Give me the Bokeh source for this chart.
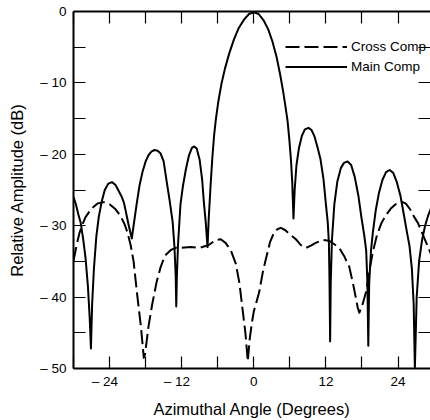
from bokeh.plotting import figure
from bokeh.models import LinearAxis, FixedTicker, Legend, LegendItem, Range1d
from bokeh.embed import file_html
from bokeh.resources import INLINE

# Main component (solid) - azimuth (deg), relative amplitude (dB)
main_deg = [-30.0, -29.6, -29.2, -28.8, -28.4, -28.0, -27.6, -27.3, -27.1,
            -26.9, -26.6, -26.2, -25.8, -25.3, -24.8, -24.2, -23.6, -23.0, -22.5, -22.0, -21.6, -21.2, -20.8, -20.3,
            -20.0, -19.5, -19.0, -18.5, -18.0, -17.5, -17.0, -16.5, -16.0, -15.5, -15.0, -14.5, -14.0, -13.5, -13.2, -13.0, -12.9,
            -12.8, -12.6, -12.2, -11.8, -11.3, -10.8, -10.3, -9.9, -9.5, -9.0, -8.6, -8.3, -8.0, -7.7,
            -7.5, -7.2, -6.9, -6.6, -6.3, -5.9, -5.4, -4.8, -4.1, -3.3, -2.5, -1.6, -0.8, 0.0,
            0.8, 1.6, 2.4, 3.1, 3.8, 4.4, 4.9, 5.3, 5.6, 5.9, 6.2, 6.4, 6.6,
            6.8, 7.1, 7.5, 8.0, 8.5, 9.1, 9.6, 10.1, 10.6, 11.1, 11.6, 12.0, 12.3, 12.5, 12.6, 12.7,
            12.8, 13.0, 13.4, 13.9, 14.5, 15.0, 15.6, 16.2, 16.8, 17.4, 17.9, 18.4, 18.7, 18.9, 19.05,
            19.2, 19.5, 19.8, 20.3, 20.8, 21.4, 22.0, 22.6, 23.2, 23.8, 24.4, 25.0, 25.5, 25.9, 26.3, 26.6, 26.8,
            27.1, 27.5, 28.0, 28.5, 29.0, 29.5, 30.0]
main_db = [-26.0, -27.0, -28.4, -29.6, -31.8, -34.5, -38.5, -43.0, -47.2,
           -41.0, -36.0, -31.5, -28.8, -26.6, -25.0, -24.1, -23.9, -24.3, -25.1, -25.9, -26.8, -28.4, -30.0, -31.8,
           -30.0, -27.0, -24.3, -22.4, -21.0, -20.1, -19.6, -19.4, -19.5, -19.9, -21.0, -23.8, -26.5, -29.5, -33.0, -37.0, -41.3,
           -37.0, -32.5, -27.0, -24.5, -22.1, -20.2, -19.1, -18.9, -19.2, -20.8, -23.5, -26.8, -29.5, -33.0,
           -29.0, -24.5, -20.5, -17.3, -15.0, -12.6, -10.2, -8.0, -5.9, -3.9, -2.3, -1.1, -0.35, -0.1,
           -0.35, -1.2, -2.5, -4.2, -6.4, -8.9, -11.3, -13.5, -15.2, -17.8, -21.0, -24.0, -29.0,
           -25.0, -21.5, -19.2, -17.4, -16.5, -16.3, -16.6, -17.5, -19.0, -20.7, -23.5, -27.0, -29.5, -32.5, -38.0, -46.2,
           -38.0, -32.0, -27.0, -23.8, -21.9, -21.2, -21.0, -21.5, -23.2, -25.8, -28.8, -31.5, -33.5, -38.0, -46.8,
           -38.0, -33.5, -31.0, -27.8, -25.5, -23.6, -22.5, -22.2, -22.6, -23.9, -25.8, -28.6, -31.0, -32.8, -36.0, -41.0, -50.0,
           -40.0, -35.0, -32.0, -30.0, -28.6, -27.5, -26.5]

# Cross component (dashed)
cross_deg = [-30.0, -29.5, -29.0, -28.5, -28.0, -27.0, -26.0, -25.0, -24.0, -23.0, -22.2, -21.5, -21.0, -20.5,
             -20.0, -19.4, -18.8, -18.3, -18.1, -17.5, -16.9, -16.2, -15.5, -14.8, -13.8, -13.0, -12.0, -10.5,
             -9.0, -7.5, -6.3, -5.5, -4.7, -3.8, -3.0, -2.4, -1.9, -1.4, -1.0, -0.7, -0.3, 0.0, 0.5, 0.9,
             1.5, 2.0, 2.7, 3.3, 3.9, 4.5, 5.2, 6.0, 7.0, 7.8, 8.7, 9.5, 10.3, 11.5, 12.5, 13.4, 14.2, 15.0,
             15.9, 16.6, 17.3, 17.55, 18.0, 18.7, 19.3, 19.8, 20.5, 21.2, 22.0, 22.8, 23.6, 24.5, 25.3, 26.0,
             26.7, 27.3, 28.0, 28.7, 29.5]
cross_db = [-34.9, -32.8, -31.0, -29.8, -28.8, -27.6, -26.9, -26.7, -27.0, -27.7, -28.6, -29.8, -31.0, -32.7,
            -35.0, -39.7, -44.0, -48.5, -48.0, -44.0, -41.0, -38.0, -35.8, -34.2, -33.4, -33.1, -33.1, -33.0,
            -33.1, -32.7, -32.0, -31.9, -32.4, -33.5, -35.3, -38.0, -41.5, -45.0, -49.0, -46.0, -43.5, -42.0, -40.5, -39.3,
            -36.5, -34.7, -32.3, -31.1, -30.5, -30.3, -30.6, -31.2, -31.9, -32.7, -33.1, -32.8, -32.4, -32.0, -32.1, -32.6, -33.1, -34.2,
            -35.8, -38.5, -41.5, -42.2, -41.3, -39.2, -36.0, -33.7, -31.3, -29.7, -28.5, -27.6, -27.0, -26.6, -26.9, -27.7,
            -28.8, -29.6, -31.0, -32.4, -34.0]

x_ticks = [-30, -24, -18, -12, -6, 0, 6, 12, 18, 24, 30]
x_labels = {-24: "\u2013 24\u2002\u2009", -12: "\u2013 12\u2002\u2009", 0: "0", 12: "12", 24: "24"}
y_ticks = [-50, -45, -40, -35, -30, -25, -20, -15, -10, -5, 0]
y_labels = {-50: "\u2013 50", -40: "\u2013 40", -30: "\u2013 30", -20: "\u2013 20", -10: "\u2013 10", 0: "0"}

FONT = "Liberation Sans"

p = figure(width=430, height=420, x_range=Range1d(-30, 29.4), y_range=Range1d(-50, 0),
           output_backend="svg", toolbar_location=None,
           min_border_left=73, min_border_right=0, min_border_top=11, min_border_bottom=50)
p.outline_line_color = None
p.grid.visible = False
p.background_fill_color = "white"
p.border_fill_color = "white"

xl = {t: x_labels.get(t, "") for t in x_ticks}
yl = {t: y_labels.get(t, "") for t in y_ticks}

def style_axis(ax, ticks, labels, show_labels=True, line=True):
    ax.ticker = FixedTicker(ticks=ticks)
    ax.major_label_overrides = labels
    ax.major_tick_in = 12
    ax.major_tick_out = 0
    ax.major_tick_line_color = "black"
    ax.major_tick_line_width = 1.2
    ax.minor_tick_line_color = None
    ax.axis_line_color = "black" if line else None
    ax.axis_line_width = 2
    ax.major_label_text_font = FONT
    ax.major_label_text_color = "black"
    if show_labels:
        ax.major_label_text_font_size = "13.5px"
    else:
        ax.major_label_text_font_size = "1px"
        ax.major_label_text_alpha = 0
        ax.major_label_standoff = 0

xa = p.xaxis[0]
style_axis(xa, x_ticks, xl)
xa.major_label_standoff = 5
xa.axis_label = "Azimuthal Angle (Degrees)"
xa.axis_label_text_font = FONT
xa.axis_label_text_font_style = "normal"
xa.axis_label_text_font_size = "16.5px"
xa.axis_label_text_color = "black"
xa.axis_label_standoff = 8

ya = p.yaxis[0]
style_axis(ya, y_ticks, yl)
ya.major_label_standoff = 7
ya.axis_label = "Relative Amplitude (dB)"
ya.axis_label_text_font = FONT
ya.axis_label_text_font_style = "normal"
ya.axis_label_text_font_size = "16.5px"
ya.axis_label_text_color = "black"
ya.axis_label_standoff = 11

top = LinearAxis()
style_axis(top, x_ticks, {t: "" for t in x_ticks}, show_labels=False)
p.add_layout(top, "above")
right = LinearAxis()
style_axis(right, y_ticks, {t: "" for t in y_ticks}, show_labels=False, line=False)
p.add_layout(right, "right")

r_cross = p.line(cross_deg, cross_db, line_color="black", line_width=2, line_dash="14 5", line_join="round")
r_main = p.line(main_deg, main_db, line_color="black", line_width=2, line_join="round")

legend = Legend(items=[LegendItem(label="Cross Comp", renderers=[r_cross]),
                       LegendItem(label="Main Comp", renderers=[r_main])],
                location=(212, 293), padding=0, margin=0, spacing=3,
                glyph_width=62, glyph_height=17, label_height=17, label_standoff=4,
                label_text_font=FONT, label_text_font_size="13.5px", label_text_color="black",
                border_line_color=None, background_fill_alpha=0)
p.add_layout(legend, "center")

open("out.html", "w").write(file_html(p, INLINE))
